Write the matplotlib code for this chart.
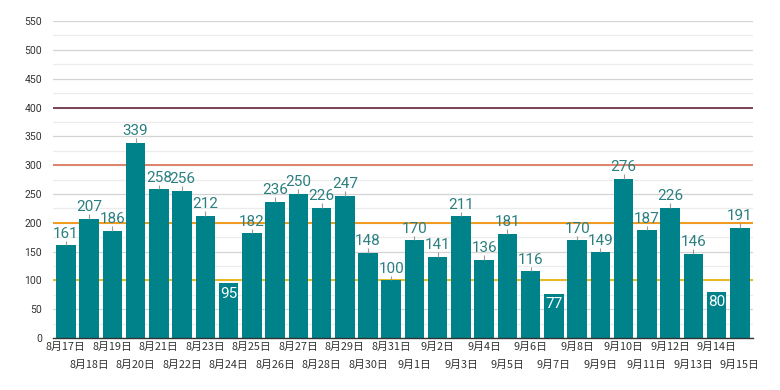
import matplotlib
matplotlib.use("Agg")
from matplotlib import pyplot as plt
import numpy as np

plt.rcParams['font.family'] = ['Roboto', 'Noto Sans CJK JP', 'DejaVu Sans']

dates = ["8月17日", "8月18日", "8月19日", "8月20日", "8月21日", "8月22日", "8月23日", "8月24日",
         "8月25日", "8月26日", "8月27日", "8月28日", "8月29日", "8月30日", "8月31日",
         "9月1日", "9月2日", "9月3日", "9月4日", "9月5日", "9月6日", "9月7日", "9月8日",
         "9月9日", "9月10日", "9月11日", "9月12日", "9月13日", "9月14日", "9月15日"]
counts = [161, 207, 186, 339, 258, 256, 212, 95, 182, 236, 250, 226, 247, 148, 100,
          170, 141, 211, 136, 181, 116, 77, 170, 149, 276, 187, 226, 146, 80, 191]
ref_levels = [100, 200, 300, 400]
ref_colors = ["#e8b923", "#f09a1e", "#e0826a", "#7a4357"]

bar_color = "#00828a"
label_color = "#2c7f80"

fig = plt.figure(figsize=(7.8, 3.9), dpi=100)
ax = fig.add_axes([0.068, 0.133, 0.897, 0.813])

x = np.arange(len(counts))
ax.yaxis.set_major_locator(matplotlib.ticker.MultipleLocator(50))
ax.yaxis.set_minor_locator(matplotlib.ticker.MultipleLocator(25))
ax.grid(axis='y', which='major', color='#d4d4d4', linewidth=0.9)
ax.grid(axis='y', which='minor', color='#ececec', linewidth=0.9)
ax.set_axisbelow(True)

for lvl, c in zip(ref_levels, ref_colors):
    ax.axhline(lvl, color=c, linewidth=1.4, zorder=1)

ax.bar(x, counts, width=0.84, color=bar_color, zorder=2)

for xi, v in zip(x, counts):
    if v < 100:
        ax.text(xi, v - 6, str(v), ha='center', va='top', color='white', fontsize=11, zorder=4)
    else:
        ax.vlines(xi, v, v + 8, color='#9a9a9a', linewidth=0.8, zorder=3)
        ax.text(xi, v + 8, str(v), ha='center', va='bottom', color=label_color, fontsize=11, zorder=4)

ax.set_xlim(-0.55, len(counts) - 0.45)
ax.set_ylim(0, 550)

# alternate date labels on two rows
cjk = ['Noto Sans CJK JP', 'DejaVu Sans']
ax.set_xticks(x[::2])
ax.set_xticklabels(dates[::2], fontsize=7.8, color='#333333', family=cjk)
ax.set_xticks(x[1::2], minor=True)
ax.set_xticklabels(dates[1::2], minor=True, fontsize=7.8, color='#333333', family=cjk)
ax.tick_params(axis='x', which='major', length=0, pad=3)
ax.tick_params(axis='x', which='minor', length=0, pad=16)
ax.tick_params(axis='y', which='both', length=0, labelsize=7.5, labelcolor='#333333', pad=8)

for s in ['left', 'right', 'top']:
    ax.spines[s].set_visible(False)
ax.spines['bottom'].set_color('#333333')
ax.spines['bottom'].set_linewidth(1.0)

fig.savefig("out.png", dpi=100)
